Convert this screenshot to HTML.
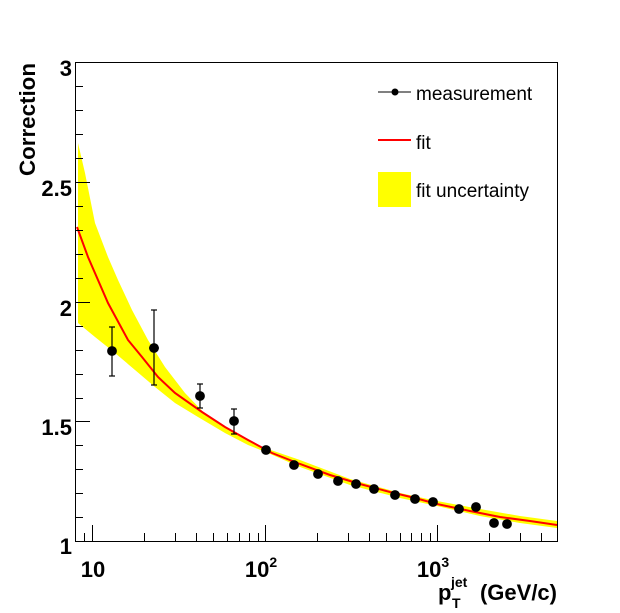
<!DOCTYPE html>
<html><head><meta charset="utf-8"><style>
body{margin:0;background:#fff}
svg{display:block;font-family:"Liberation Sans",Arial,sans-serif}
</style></head><body>
<svg width="620" height="613" viewBox="0 0 620 613" xmlns="http://www.w3.org/2000/svg">
<rect width="620" height="613" fill="#fff"/>
<!-- band -->
<path d="M78,143 L85,173 L95,223 L108,257 L118,280 L132,310 L148,340 L165,367 L185,393 L208,417 L235,433 L262,447 L300,460 L350,479 L400,493 L437,501 L480,509 L520,516 L557,521
L557,528 L520,523 L480,516 L437,506 L400,498 L350,485 L300,467 L268,453 L248,445 L225,433 L198,417 L175,403 L155,387 L135,370 L115,353 L95,337 L78,323 Z" fill="#ffff00"/>
<!-- fit -->
<path d="M77,227 L88,257 L98,280 L108,303 L128,340 L142,357 L158,377 L175,393 L202,412 L225,427 L248,440 L272,453 L300,464 L330,475 L360,484 L390,492 L415,498 L437,504 L470,511 L500,517 L530,521 L557,525" fill="none" stroke="#ff0000" stroke-width="2"/>
<!-- data -->
<g stroke="#000" stroke-width="1.2" fill="#000">
<line x1="112" y1="327" x2="112" y2="376"/><line x1="109" y1="327" x2="115" y2="327"/><line x1="109" y1="376" x2="115" y2="376"/>
<line x1="154" y1="310" x2="154" y2="385"/><line x1="151" y1="310" x2="157" y2="310"/><line x1="151" y1="385" x2="157" y2="385"/><line x1="149" y1="348" x2="159" y2="348"/>
<line x1="200" y1="384" x2="200" y2="408"/><line x1="197" y1="384" x2="203" y2="384"/><line x1="197" y1="408" x2="203" y2="408"/>
<line x1="234" y1="409" x2="234" y2="434"/><line x1="231" y1="409" x2="237" y2="409"/><line x1="231" y1="434" x2="237" y2="434"/>
<circle cx="112" cy="351" r="4.3"/><circle cx="154" cy="348" r="4.3"/><circle cx="200" cy="396" r="4.3"/><circle cx="234" cy="421" r="4.3"/>
<circle cx="266" cy="450" r="4.3"/><circle cx="294" cy="465" r="4.3"/><circle cx="318" cy="474" r="4.3"/><circle cx="338" cy="481" r="4.3"/>
<circle cx="356" cy="484" r="4.3"/><circle cx="374" cy="489" r="4.3"/><circle cx="395" cy="495" r="4.3"/><circle cx="415" cy="499" r="4.3"/>
<circle cx="433" cy="502" r="4.3"/><circle cx="459" cy="509" r="4.3"/><circle cx="476" cy="507" r="4.3"/><circle cx="494" cy="523" r="4.3"/>
<circle cx="507" cy="524" r="4.3"/>
</g>
<!-- frame -->
<rect x="75.5" y="62.5" width="482" height="479" fill="none" stroke="#000" stroke-width="1"/>
<g stroke="#000" stroke-width="1">
<path d="M76,62.5h14 M76,86.5h7 M76,110.5h7 M76,134.5h7 M76,158.5h7 M76,182.5h14 M76,206.5h7 M76,230.5h7 M76,254.5h7 M76,278.5h7 M76,302.5h14 M76,326.5h7 M76,350.5h7 M76,374.5h7 M76,398.5h7 M76,421.5h14 M76,445.5h7 M76,469.5h7 M76,493.5h7 M76,517.5h7"/>
<path d="M75.5,541v-8 M84.5,541v-8 M92.5,541v-16 M144.5,541v-8 M175.5,541v-8 M196.5,541v-8 M213.5,541v-8 M227.5,541v-8 M239.5,541v-8 M249.5,541v-8 M258.5,541v-8 M265.5,541v-16 M317.5,541v-8 M348.5,541v-8 M369.5,541v-8 M386.5,541v-8 M400.5,541v-8 M411.5,541v-8 M421.5,541v-8 M430.5,541v-8 M437.5,541v-16 M489.5,541v-8 M520.5,541v-8 M541.5,541v-8"/>
</g>
<g font-weight="bold" font-size="22" fill="#000" text-anchor="end">
<text x="72" y="76">3</text><text x="72" y="196">2.5</text><text x="72" y="316">2</text><text x="72" y="435">1.5</text><text x="72" y="554">1</text>
</g>
<g font-weight="bold" font-size="22" fill="#000" text-anchor="middle">
<text x="93" y="577">10</text>
<text x="261" y="577">10<tspan font-size="14" dy="-10">2</tspan></text>
<text x="433" y="577">10<tspan font-size="14" dy="-10">3</tspan></text>
</g>
<text transform="translate(35,176) rotate(-90)" font-weight="bold" font-size="22" fill="#000" textLength="113" lengthAdjust="spacingAndGlyphs">Correction</text>
<text x="438" y="600" font-weight="bold" font-size="22" fill="#000">p</text>
<text x="452" y="608" font-weight="bold" font-size="14" fill="#000">T</text>
<text x="451" y="587" font-weight="bold" font-size="14" fill="#000">jet</text>
<text x="557" y="600" font-weight="bold" font-size="22" fill="#000" text-anchor="end">(GeV/c)</text>
<!-- legend -->
<line x1="378" y1="92" x2="411" y2="92" stroke="#000" stroke-width="1"/>
<circle cx="395" cy="92" r="3.5" fill="#000"/>
<text x="416" y="100" font-size="19" fill="#000">measurement</text>
<line x1="378" y1="140" x2="411" y2="140" stroke="#ff0000" stroke-width="2"/>
<text x="416" y="149" font-size="19" fill="#000">fit</text>
<rect x="378" y="172" width="33" height="35" fill="#ffff00"/>
<text x="416" y="197" font-size="19" fill="#000">fit uncertainty</text>
</svg>
</body></html>
